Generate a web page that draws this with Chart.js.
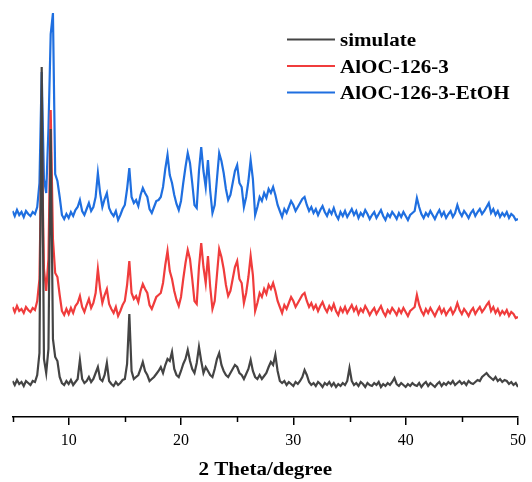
<!DOCTYPE html>
<html>
<head>
<meta charset="utf-8">
<script src="https://cdn.jsdelivr.net/npm/chart.js@4.4.1/dist/chart.umd.min.js"></script>
<style>
  body { margin: 0; background: #fff; }
</style>
</head>
<body>
<canvas id="xrd" width="532" height="482"></canvas>
<script>
// 2 theta grid (degrees)
const twoTheta = [
  5, 5.2, 5.4, 5.6, 5.8, 6, 6.2, 6.4, 6.6, 6.8,
  7, 7.2, 7.4, 7.6, 7.8, 8, 8.2, 8.4, 8.6, 8.8,
  9, 9.2, 9.4, 9.6, 9.8, 10, 10.2, 10.4, 10.6, 10.8,
  11, 11.2, 11.4, 11.6, 11.8, 12, 12.2, 12.4, 12.6, 12.8,
  13, 13.2, 13.4, 13.6, 13.8, 14, 14.2, 14.4, 14.6, 14.8,
  15, 15.2, 15.4, 15.6, 15.8, 16, 16.2, 16.4, 16.6, 16.8,
  17, 17.2, 17.4, 17.6, 17.8, 18, 18.2, 18.4, 18.6, 18.8,
  19, 19.2, 19.4, 19.6, 19.8, 20, 20.2, 20.4, 20.6, 20.8,
  21, 21.2, 21.4, 21.6, 21.8, 22, 22.2, 22.4, 22.6, 22.8,
  23, 23.2, 23.4, 23.6, 23.8, 24, 24.2, 24.4, 24.6, 24.8,
  25, 25.2, 25.4, 25.6, 25.8, 26, 26.2, 26.4, 26.6, 26.8,
  27, 27.2, 27.4, 27.6, 27.8, 28, 28.2, 28.4, 28.6, 28.8,
  29, 29.2, 29.4, 29.6, 29.8, 30, 30.2, 30.4, 30.6, 30.8,
  31, 31.2, 31.4, 31.6, 31.8, 32, 32.2, 32.4, 32.6, 32.8,
  33, 33.2, 33.4, 33.6, 33.8, 34, 34.2, 34.4, 34.6, 34.8,
  35, 35.2, 35.4, 35.6, 35.8, 36, 36.2, 36.4, 36.6, 36.8,
  37, 37.2, 37.4, 37.6, 37.8, 38, 38.2, 38.4, 38.6, 38.8,
  39, 39.2, 39.4, 39.6, 39.8, 40, 40.2, 40.4, 40.6, 40.8,
  41, 41.2, 41.4, 41.6, 41.8, 42, 42.2, 42.4, 42.6, 42.8,
  43, 43.2, 43.4, 43.6, 43.8, 44, 44.2, 44.4, 44.6, 44.8,
  45, 45.2, 45.4, 45.6, 45.8, 46, 46.2, 46.4, 46.6, 46.8,
  47, 47.2, 47.4, 47.6, 47.8, 48, 48.2, 48.4, 48.6, 48.8,
  49, 49.2, 49.4, 49.6, 49.8, 50
];

// intensities, already stacked (arbitrary units)
const simulate = [
  38, 34, 39, 35, 37, 33, 38, 36, 34, 38,
  37, 44, 66, 352, 60, 46, 70, 290, 80, 62,
  58, 42, 36, 34, 38, 35, 39, 34, 37, 40,
  59, 40, 36, 38, 42, 37, 40, 46, 52, 40,
  38, 44, 56, 38, 35, 33, 37, 34, 36, 39,
  40, 55, 105, 48, 40, 42, 44, 50, 57, 48,
  44, 38, 40, 42, 45, 48, 52, 46, 54, 60,
  58, 67, 50, 44, 42, 48, 55, 60, 69, 58,
  50, 46, 56, 72, 58, 46, 52, 48, 44, 42,
  50, 60, 66, 54, 48, 44, 42, 46, 50, 54,
  52, 46, 44, 40, 45, 50, 59, 48, 42, 40,
  44, 40, 43, 46, 52, 57, 54, 64, 48, 38,
  36, 38, 34, 37, 35, 33, 37, 35, 38, 42,
  49, 44, 37, 34, 36, 33, 37, 35, 32, 36,
  34, 37, 33, 36, 32, 35, 33, 36, 34, 38,
  51, 38, 34, 36, 33, 37, 35, 32, 36, 34,
  33, 36, 34, 37, 32, 35, 33, 36, 34, 37,
  41, 35, 33, 36, 34, 32, 35, 33, 36, 34,
  33, 36, 32, 35, 37, 33, 36, 34, 32, 35,
  37, 33, 36, 34, 37, 35, 38, 34, 36, 38,
  35, 37, 34, 38, 36, 35, 37, 39, 38, 42,
  44, 46, 43, 41, 39, 42, 38, 40, 37, 39,
  38, 35, 37, 34, 36, 32
];

const aloc = [
  112, 107, 113, 108, 110, 106, 112, 109, 107, 111,
  109, 118, 140, 285, 150, 128, 160, 309, 180, 146,
  142, 124, 108, 104, 110, 105, 111, 106, 113, 116,
  123, 112, 107, 114, 120, 111, 116, 126, 150, 130,
  116, 124, 130, 115, 110, 106, 112, 103, 108, 114,
  118, 134, 158, 126, 120, 123, 117, 128, 135, 130,
  126, 114, 110, 116, 122, 124, 126, 136, 154, 168,
  148, 140, 128, 119, 113, 122, 140, 156, 169, 160,
  140, 118, 115, 152, 176, 152, 136, 163, 132, 110,
  118, 144, 170, 162, 150, 134, 123, 128, 140, 152,
  158, 140, 136, 116, 126, 142, 163, 144, 108, 116,
  126, 122, 130, 125, 134, 130, 136, 128, 118, 112,
  106, 114, 110, 116, 122, 118, 112, 116, 120, 124,
  126, 118, 112, 116, 110, 114, 108, 113, 117, 111,
  107, 113, 109, 115, 108, 104, 111, 107, 112, 106,
  110, 114, 108, 112, 105, 110, 107, 113, 109, 104,
  108, 111, 105, 109, 113, 107, 103, 109, 106, 111,
  108, 104, 110, 106, 111, 107, 103, 108, 110, 112,
  124, 114, 108, 104, 110, 106, 111, 107, 103, 108,
  112, 106, 110, 104, 108, 111, 105, 109, 116, 109,
  105, 110, 107, 103, 108, 111, 105, 109, 112, 107,
  110, 114, 117, 108, 112, 106, 110, 104, 108, 105,
  109, 103, 107, 105, 101, 102
];

const alocEtoh = [
  208, 203, 209, 204, 207, 202, 208, 205, 203, 207,
  205, 212, 236, 347, 240, 226, 290, 385, 406, 245,
  238, 222, 204, 200, 205, 201, 207, 203, 209, 212,
  219, 208, 204, 210, 216, 208, 212, 222, 246, 226,
  212, 220, 226, 211, 206, 203, 208, 199, 204, 210,
  214, 230, 251, 222, 216, 219, 213, 224, 231, 226,
  222, 210, 206, 212, 218, 219, 222, 232, 250, 264,
  244, 236, 224, 215, 209, 218, 236, 252, 266, 256,
  236, 214, 211, 248, 272, 248, 232, 259, 228, 206,
  214, 240, 266, 258, 246, 230, 219, 224, 236, 248,
  254, 236, 232, 212, 222, 238, 259, 240, 204, 212,
  222, 218, 226, 221, 230, 226, 232, 224, 214, 208,
  202, 210, 206, 212, 218, 214, 208, 212, 216, 220,
  222, 214, 208, 212, 206, 210, 204, 209, 213, 207,
  203, 209, 205, 211, 204, 200, 207, 203, 208, 202,
  206, 210, 204, 208, 201, 206, 203, 209, 205, 200,
  204, 207, 201, 205, 209, 203, 199, 205, 202, 207,
  204, 200, 206, 202, 207, 203, 199, 204, 206, 208,
  221, 212, 205, 201, 206, 203, 208, 204, 200, 205,
  209, 203, 207, 201, 205, 208, 202, 206, 214, 207,
  203, 208, 205, 201, 206, 209, 203, 207, 210, 205,
  208, 212, 216, 206, 210, 204, 208, 202, 206, 203,
  207, 201, 205, 203, 199, 200
];

const seriesNames = ['simulate', 'AlOC-126-3', 'AlOC-126-3-EtOH'];
const seriesColors = ['#444444', '#f03c3c', '#1f6fe0'];
const majorTicks = [10, 20, 30, 40, 50];
const minorTicks = [5, 15, 25, 35, 45];
const axisTitle = '2 Theta/degree';

function toPoints(values) {
  return values.map((v, i) => ({ x: twoTheta[i], y: v }));
}

// legend, minor ticks and axis title (stretched serif like the original)
const extras = {
  id: 'extras',
  afterDraw(chart) {
    const ctx = chart.ctx;
    const xs = chart.scales.x;
    const area = chart.chartArea;
    ctx.save();

    ctx.strokeStyle = '#000';
    ctx.lineWidth = 1.5;
    minorTicks.forEach(v => {
      const px = Math.round(xs.getPixelForValue(v)) + 0.5;
      ctx.beginPath();
      ctx.moveTo(px, area.bottom);
      ctx.lineTo(px, area.bottom + 5);
      ctx.stroke();
    });

    const lineY = [39.5, 66, 92.5];
    const textY = [46, 72.5, 99];
    chart.data.datasets.forEach((ds, i) => {
      ctx.strokeStyle = ds.borderColor;
      ctx.lineWidth = 2;
      ctx.beginPath();
      ctx.moveTo(287, lineY[i]);
      ctx.lineTo(335, lineY[i]);
      ctx.stroke();
      ctx.save();
      ctx.translate(340, textY[i]);
      ctx.scale(1.17, 1);
      ctx.fillStyle = '#000';
      ctx.font = 'bold 18px "Liberation Serif"';
      ctx.textAlign = 'left';
      ctx.textBaseline = 'alphabetic';
      ctx.fillText(ds.label, 0, 0);
      ctx.restore();
    });

    ctx.translate((area.left + area.right) / 2, 475);
    ctx.scale(1.17, 1);
    ctx.fillStyle = '#000';
    ctx.font = 'bold 18px "Liberation Serif"';
    ctx.textAlign = 'center';
    ctx.textBaseline = 'alphabetic';
    ctx.fillText(axisTitle, 0, 0);
    ctx.restore();
  }
};

function initializeChart() {
  const ctx = document.getElementById('xrd').getContext('2d');
  new Chart(ctx, {
    type: 'line',
    data: {
      datasets: [simulate, aloc, alocEtoh].map((vals, i) => ({
        label: seriesNames[i],
        data: toPoints(vals),
        borderColor: seriesColors[i],
        borderWidth: 2.2,
        borderJoinStyle: 'miter',
        pointRadius: 0,
        tension: 0,
        fill: false
      }))
    },
    options: {
      responsive: false,
      animation: false,
      layout: { padding: { left: 12.5, right: 11.3, top: 9, bottom: 0 } },
      plugins: { legend: { display: false }, tooltip: { enabled: false } },
      scales: {
        x: {
          type: 'linear',
          min: 5,
          max: 50,
          afterBuildTicks: scale => { scale.ticks = majorTicks.map(v => ({ value: v })); },
          afterFit: scale => { scale.height = 65; },
          ticks: {
            color: '#000',
            padding: 6,
            font: { family: '"Liberation Serif"', size: 16 },
            maxRotation: 0
          },
          grid: { drawOnChartArea: false, drawTicks: true, tickLength: 8, color: '#000', lineWidth: 1.5 },
          border: { display: true, color: '#000', width: 1.5 }
        },
        y: {
          display: false,
          min: 2,
          max: 410
        }
      }
    },
    plugins: [extras]
  });
}

window.onload = initializeChart;
</script>
</body>
</html>
